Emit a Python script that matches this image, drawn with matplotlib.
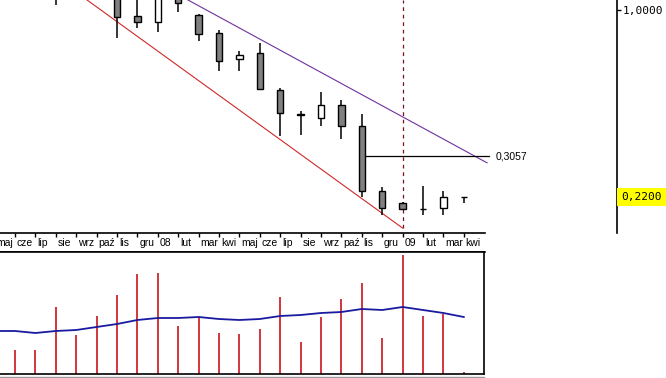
import matplotlib
matplotlib.use("Agg")
import matplotlib.pyplot as plt
from matplotlib.patches import Rectangle
import numpy as np

# monthly candles, index 0 = cze 2007 ... 22 = kwi 2009
opens  = [1.40, 1.50, 1.25, 1.30, 1.20, 1.18, 0.953, 0.907, 1.10, 0.960, 0.830, 0.672,
          0.706, 0.523, 0.429, 0.417, 0.463, 0.391, 0.231, 0.210, 0.200, 0.201, 0.220]
highs  = [1.60, 1.62, 1.35, 1.40, 1.35, 1.25, 1.12, 1.15, 1.15, 0.968, 0.850, 0.717,
          0.766, 0.532, 0.441, 0.515, 0.482, 0.431, 0.239, 0.211, 0.2405, 0.231, 0.220]
lows   = [1.30, 1.20, 1.04, 1.12, 1.10, 0.797, 0.864, 0.837, 0.984, 0.778, 0.610, 0.610,
          0.524, 0.361, 0.363, 0.391, 0.352, 0.220, 0.190, 0.199, 0.190, 0.190, 0.2095]
closes = [1.50, 1.30, 1.15, 1.20, 1.25, 0.945, 0.907, 1.10, 1.058, 0.823, 0.660, 0.695,
          0.527, 0.434, 0.427, 0.463, 0.391, 0.231, 0.201, 0.200, 0.1995, 0.220, 0.220]

volume = [24, 24, 67, 39, 58, 79, 100, 101, 48, 57, 41, 40,
          45, 77, 32, 57, 75, 91, 36, 119, 58, 60, 2]
# moving average of volume, index -1 .. 22
vol_ma = [43, 43, 41, 43, 44, 47, 50, 54, 56, 56, 57, 55, 54,
          55, 58, 59, 61, 62, 65, 64, 67, 64, 61, 57]

month_labels = ['maj', 'cze', 'lip', 'sie', 'wrz', 'paź', 'lis', 'gru', '08', 'lut', 'mar', 'kwi',
                'maj', 'cze', 'lip', 'sie', 'wrz', 'paź', 'lis', 'gru', '09', 'lut', 'mar', 'kwi']

# trend lines (index, price)
support_x, support_y = [3.0, 19.0], [1.155, 0.171]
resist_x, resist_y = [8.0, 23.14], [1.132, 0.290]
level_price = 0.3057
level_x = [17.16, 23.24]
last_price = 0.22
year_mark = 19

W, H = 666, 378
fig = plt.figure(figsize=(W / 100, H / 100), dpi=100)
fig.patch.set_facecolor('white')

def px_to_index(x):
    return (x - 15) / 20.4

def frame(x0, y0, x1, y1):
    return [x0 / W, 1 - y1 / H, (x1 - x0) / W, (y1 - y0) / H]

n = len(opens)
idx = np.arange(n)

# ---- price panel
ax = fig.add_axes(frame(0, 0, 617, 233))
ax.set_yscale('log')
ax.set_xlim(px_to_index(0), px_to_index(617))
ax.set_ylim(0.1643, 1.084)
for s in ['left', 'top', 'bottom']:
    ax.spines[s].set_visible(False)
ax.spines['right'].set_linewidth(1.2)
ax.set_xticks([])
ax.yaxis.set_ticks_position('right')
ax.set_yticks([1.0])
ax.set_yticklabels(['1,0000'], family='DejaVu Sans Mono', fontsize=8)
ax.yaxis.set_minor_locator(matplotlib.ticker.NullLocator())
ax.tick_params(axis='y', direction='out', length=3, width=1, pad=1)

ax.plot(support_x, support_y, color='#d02828', lw=0.8)
ax.plot(resist_x, resist_y, color='#7030a0', lw=0.8)
ax.plot(level_x, [level_price, level_price], color='black', lw=0.9)
ax.text(level_x[1] + 0.3, level_price, '0,3057', fontsize=7.5, family='Liberation Sans',
        va='center', ha='left')
ax.vlines(year_mark, support_y[1], 1.084, color='#801020', lw=0.9, linestyles=(0, (3, 3)))

bw = 0.32
for i in idx:
    o, h, l, c = opens[i], highs[i], lows[i], closes[i]
    ax.vlines(i, l, h, color='black', lw=1.1, zorder=2)
    lo, hi = min(o, c), max(o, c)
    fc = '#808080' if c < o else 'white'
    ax.add_patch(Rectangle((i - bw / 2, lo), bw, hi - lo, facecolor=fc,
                           edgecolor='black', lw=1.0, zorder=3))

# last price tag on the right scale
y_last = ax.transAxes.inverted().transform(ax.transData.transform((0, last_price)))[1]
y_fig = (1 - 233 / H) + y_last * (233 / H)
fig.text(621.5 / W, y_fig, '0,2200', family='DejaVu Sans Mono', fontsize=8,
         va='center', ha='left', bbox=dict(facecolor='#ffff00', edgecolor='none', pad=3.0))

# ---- month strip
axs = fig.add_axes(frame(0, 233, 485, 252))
axs.set_xlim(px_to_index(0), px_to_index(485))
axs.set_ylim(0, 1)
for s in ['left', 'right']:
    axs.spines[s].set_visible(False)
axs.spines['top'].set_linewidth(1.2)
axs.spines['bottom'].set_linewidth(1.2)
pos = np.arange(-1, len(month_labels) - 1)
axs.vlines(pos, 0.78, 1.0, color='black', lw=1)
for p, lab in zip(pos, month_labels):
    axs.text(p + 0.09, 0.45, lab, fontsize=7.5, family='Liberation Sans', ha='left', va='center',
             clip_on=True)
axs.set_xticks([])
axs.set_yticks([])

# ---- volume panel
axv = fig.add_axes(frame(0, 252, 484, 374))
axv.set_xlim(px_to_index(0), px_to_index(484))
axv.set_ylim(0, 122)
axv.spines['left'].set_visible(False)
for s in ['top', 'right', 'bottom']:
    axv.spines[s].set_linewidth(1.2)
axv.vlines(idx, 0, volume, color='#c8141c', lw=1.2)
axv.plot(np.arange(-1, n), vol_ma, color='#1a1aa0', lw=1.3)
axv.set_xticks([])
axv.set_yticks([])
fig.add_artist(plt.Line2D([0, 484 / W], [1 - 376.5 / H, 1 - 376.5 / H], color='#999999', lw=1))

fig.savefig('out.png', dpi=100)
